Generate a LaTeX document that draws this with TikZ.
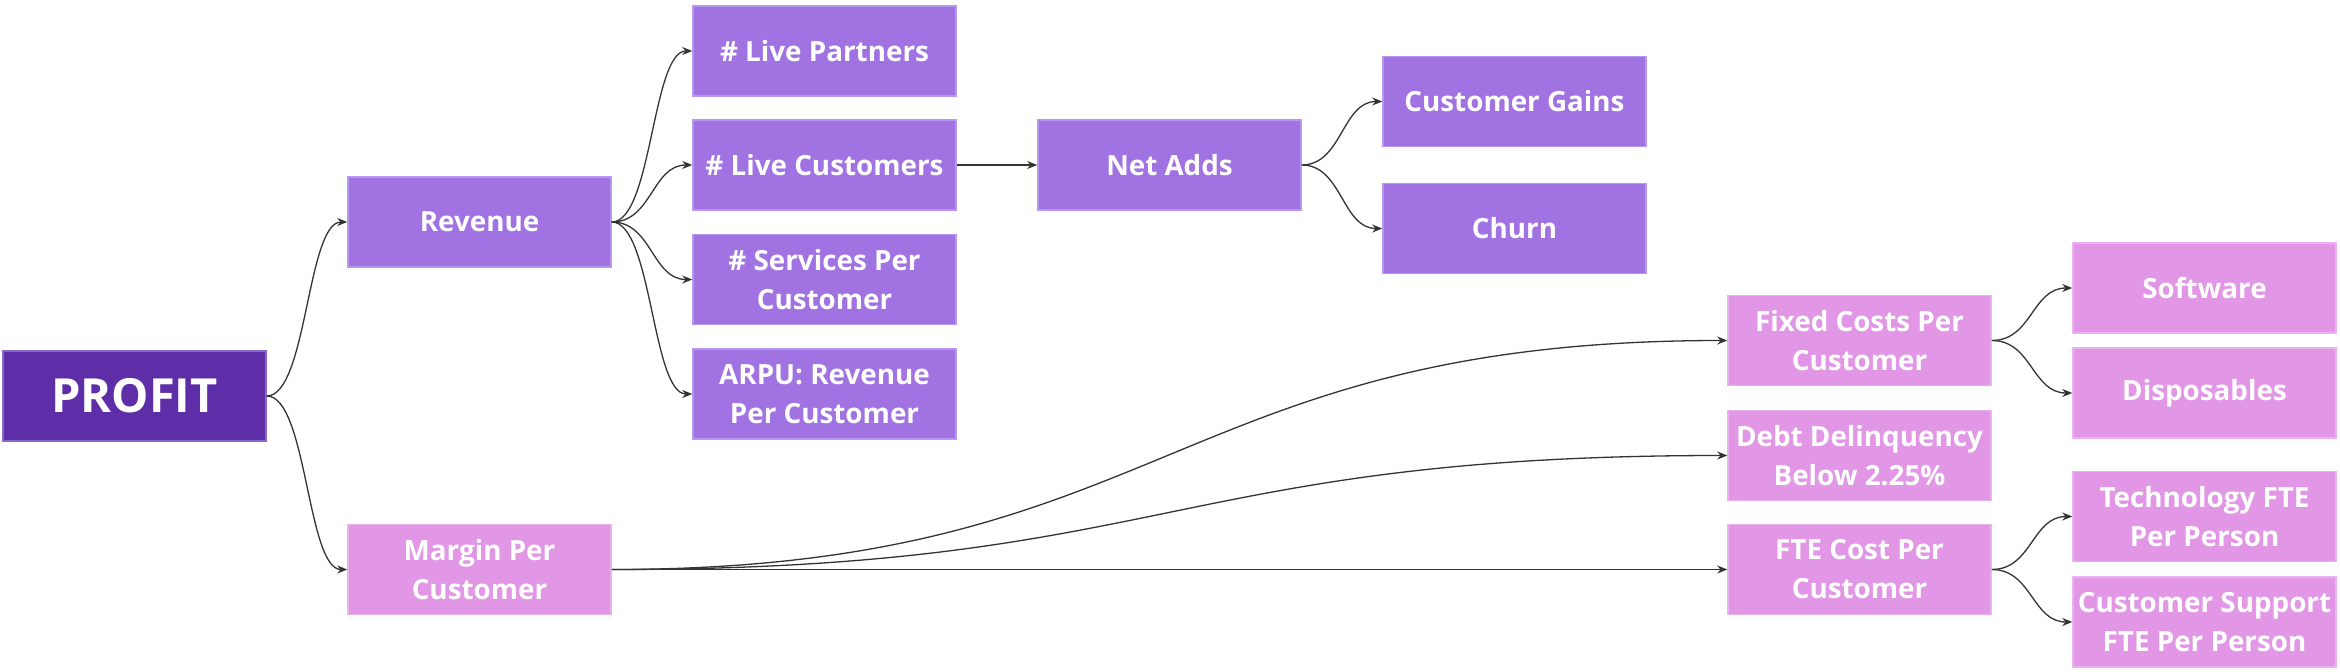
\documentclass[tikz,border=0pt]{standalone}
\usepackage{fontspec}
\setmainfont{Open Sans}
\usetikzlibrary{arrows.meta,calc}
\definecolor{darkp}{HTML}{5E2EA8}
\definecolor{darkpb}{HTML}{8A68C8}
\definecolor{midp}{HTML}{A072E2}
\definecolor{midpb}{HTML}{B898EE}
\definecolor{pinkp}{HTML}{E196E6}
\definecolor{pinkpb}{HTML}{EAB2EE}
\definecolor{linec}{HTML}{333333}
\tikzset{
  box/.style={rectangle, minimum width=263pt, minimum height=90pt, inner sep=0pt,
    text=white, align=center, line width=1.5pt,
    font=\bfseries\fontsize{27.8}{39}\selectfont},
  rootbox/.style={box, fill=darkp, draw=darkpb, font=\bfseries\fontsize{47}{52}\selectfont},
  midbox/.style={box, fill=midp, draw=midpb},
  pinkbox/.style={box, fill=pinkp, draw=pinkpb},
  conn/.style={draw=linec, line width=1.3pt, -{Stealth[length=10pt,width=8pt]}}
}
\newcommand\linkto[2]{\draw[conn] let \p1=(#1.east), \p2=(#2.west) in
  (\p1) .. controls (0.5*\x1+0.5*\x2,\y1) and (0.5*\x1+0.5*\x2,\y2) .. (\p2);}
\begin{document}
\begin{tikzpicture}[x=1pt,y=-1pt]
\useasboundingbox (0,0) rectangle (2340,672);
\node[rootbox] (profit) at (134.5,396) {PROFIT};
\node[midbox] (rev) at (479.5,222) {Revenue};
\node[pinkbox] (margin) at (479.5,569.5) {Margin Per\\Customer};
\node[midbox] (partners) at (824.5,51) {\# Live Partners};
\node[midbox] (livecust) at (824.5,165) {\# Live Customers};
\node[midbox] (services) at (824.5,279.5) {\# Services Per\\Customer};
\node[midbox] (arpu) at (824.5,394) {ARPU: Revenue\\Per Customer};
\node[midbox] (netadds) at (1169.5,165) {Net Adds};
\node[midbox] (gains) at (1514.5,101.5) {Customer Gains};
\node[midbox] (churn) at (1514.5,228.5) {Churn};
\node[pinkbox] (fixed) at (1859.5,340.5) {Fixed Costs Per\\Customer};
\node[pinkbox] (debt) at (1859.5,455.5) {Debt Delinquency\\Below 2.25\%};
\node[pinkbox] (fte) at (1859.5,569.5) {FTE Cost Per\\Customer};
\node[pinkbox] (software) at (2204.5,288) {Software};
\node[pinkbox] (dispos) at (2204.5,393) {Disposables};
\node[pinkbox] (tech) at (2204.5,516.5) {Technology FTE\\Per Person};
\node[pinkbox] (support) at (2204.5,622) {Customer Support\\FTE Per Person};
\linkto{profit}{rev}
\linkto{profit}{margin}
\linkto{rev}{partners}
\linkto{rev}{livecust}
\linkto{rev}{services}
\linkto{rev}{arpu}
\linkto{livecust}{netadds}
\linkto{netadds}{gains}
\linkto{netadds}{churn}
\linkto{margin}{fixed}
\linkto{margin}{debt}
\linkto{margin}{fte}
\linkto{fixed}{software}
\linkto{fixed}{dispos}
\linkto{fte}{tech}
\linkto{fte}{support}
\end{tikzpicture}
\end{document}
